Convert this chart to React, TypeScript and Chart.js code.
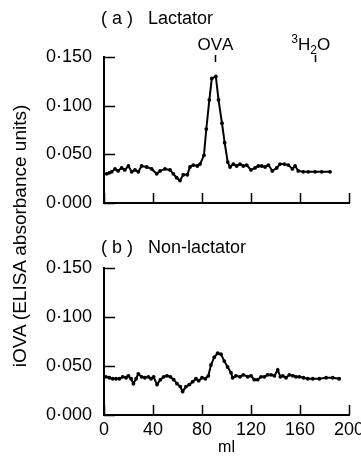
import React, { useEffect, useRef } from 'react';
import { Chart, registerables } from 'chart.js';

Chart.register(...registerables);

// ---- Data ----
const lactatorMl = [
  2.2, 4.3, 6.3, 9.0, 11.5, 14.4, 17.0, 19.9, 22.6, 25.3, 28.0, 30.7, 34.8, 38.9, 43.0, 45.8,
  49.8, 53.9, 56.6, 59.3, 62.0, 64.7, 68.0, 70.2, 72.9, 76.2, 78.4, 81.6, 83.5, 86.0, 88.0,
  91.3, 93.5, 96.3, 98.5, 101.0, 102.9, 105.6, 108.3, 111.0, 113.7, 116.5, 120.0, 123.3,
  126.0, 128.7, 131.5, 134.2, 137.4, 141.0, 143.7, 147.2, 150.5, 153.8, 156.0, 158.6, 162.7,
  166.8, 172.3, 177.7, 184.5,
];
const lactatorOva = [
  0.030, 0.031, 0.032, 0.035, 0.033, 0.036, 0.034, 0.038, 0.032, 0.034, 0.032, 0.038, 0.037,
  0.035, 0.030, 0.033, 0.035, 0.034, 0.030, 0.026, 0.023, 0.029, 0.029, 0.037, 0.039, 0.038,
  0.040, 0.049, 0.076, 0.106, 0.128, 0.130, 0.106, 0.082, 0.062, 0.042, 0.037, 0.040, 0.038,
  0.040, 0.038, 0.039, 0.034, 0.036, 0.038, 0.038, 0.037, 0.039, 0.033, 0.036, 0.040, 0.040,
  0.039, 0.035, 0.038, 0.033, 0.032, 0.032, 0.032, 0.032, 0.032,
];
const nonLactatorMl = [
  1.6, 4.4, 7.1, 9.8, 12.6, 15.3, 18.0, 19.9, 22.1, 24.0, 26.2, 28.0, 30.7, 33.4, 36.2, 38.4,
  40.5, 43.3, 46.0, 48.7, 51.4, 54.2, 56.9, 59.6, 62.3, 64.2, 66.9, 69.7, 72.4, 75.1, 77.3,
  80.0, 82.7, 85.2, 87.3, 90.0, 92.8, 95.5, 98.2, 100.9, 103.7, 105.0, 107.7, 111.0, 113.7,
  117.3, 120.0, 122.7, 125.4, 128.2, 130.9, 133.6, 136.3, 139.1, 141.8, 144.0, 145.9, 148.6,
  151.3, 154.1, 156.8, 159.5, 162.8, 166.3, 170.4, 175.8, 181.3, 186.7, 192.0,
];
const nonLactatorOva = [
  0.039, 0.038, 0.037, 0.037, 0.037, 0.039, 0.038, 0.040, 0.037, 0.032, 0.037, 0.042, 0.039,
  0.038, 0.039, 0.037, 0.039, 0.031, 0.036, 0.039, 0.040, 0.039, 0.036, 0.032, 0.029, 0.024,
  0.029, 0.031, 0.034, 0.037, 0.035, 0.038, 0.037, 0.040, 0.051, 0.059, 0.063, 0.062, 0.055,
  0.049, 0.043, 0.038, 0.040, 0.039, 0.041, 0.039, 0.040, 0.036, 0.036, 0.039, 0.039, 0.041,
  0.041, 0.040, 0.046, 0.039, 0.040, 0.038, 0.041, 0.040, 0.039, 0.039, 0.038, 0.037, 0.037,
  0.037, 0.038, 0.038, 0.037,
];
const yTicks = [0, 0.05, 0.1, 0.15];
const xTicks = [0, 40, 80, 120, 160, 200];
const markerMl = [91, 172];
const markerLabels = ['OVA', '³H₂O'];
const panelLetters = ['( a )', '( b )'];
const panelNames = ['Lactator', 'Non-lactator'];
const yTitle = 'iOVA (ELISA absorbance units)';
const xTitle = 'ml';

const FONT = '"Liberation Sans", Arial, sans-serif';

function drawMarkerLabel(ctx: CanvasRenderingContext2D, label: string, cx: number, y: number) {
  const pieces: { t: string; k: 'n' | 'sup' | 'sub' }[] = [];
  const supMap: Record<string, string> = { '³': '3', '²': '2', '¹': '1' };
  const subMap: Record<string, string> = { '₂': '2', '₃': '3', '₁': '1' };
  for (const ch of label) {
    if (supMap[ch]) pieces.push({ t: supMap[ch], k: 'sup' });
    else if (subMap[ch]) pieces.push({ t: subMap[ch], k: 'sub' });
    else pieces.push({ t: ch, k: 'n' });
  }
  const fontFor = (k: string) => (k === 'n' ? `17px ${FONT}` : `12px ${FONT}`);
  let total = 0;
  for (const p of pieces) {
    ctx.font = fontFor(p.k);
    total += ctx.measureText(p.t).width;
  }
  let x = cx - total / 2;
  ctx.textAlign = 'left';
  ctx.textBaseline = 'alphabetic';
  for (const p of pieces) {
    ctx.font = fontFor(p.k);
    const dy = p.k === 'sup' ? -7 : p.k === 'sub' ? 4 : 0;
    ctx.fillText(p.t, x, y + dy);
    x += ctx.measureText(p.t).width;
  }
}

function makeDecor(panel: number, titleY: number) {
  return {
    id: 'decor' + panel,
    afterDraw(chart: any) {
      const ctx: CanvasRenderingContext2D = chart.ctx;
      const xs = chart.scales.x;
      const ys = chart.scales.y;
      const area = chart.chartArea;
      ctx.save();
      ctx.strokeStyle = '#000';
      ctx.lineWidth = 1.5;
      ctx.beginPath();
      xTicks.forEach((v) => {
        const px = Math.round(xs.getPixelForValue(v)) + 0.5;
        ctx.moveTo(px, area.bottom);
        ctx.lineTo(px, area.bottom - 10);
      });
      yTicks.forEach((v) => {
        const py = Math.round(ys.getPixelForValue(v)) + 0.5;
        ctx.moveTo(area.left, py);
        ctx.lineTo(area.left + 11, py);
      });
      ctx.stroke();

      ctx.fillStyle = '#000';
      ctx.font = `18px ${FONT}`;
      ctx.textAlign = 'left';
      ctx.textBaseline = 'middle';
      ctx.fillText(panelLetters[panel], 101, titleY);
      ctx.fillText(panelNames[panel], 148, titleY);

      if (panel === 0) {
        markerMl.forEach((m, i) => {
          const px = xs.getPixelForValue(m);
          drawMarkerLabel(ctx, markerLabels[i], px - (i === 1 ? 4 : 0), 50);
          ctx.beginPath();
          ctx.lineWidth = 1.5;
          ctx.moveTo(Math.round(px) + 0.5, 55);
          ctx.lineTo(Math.round(px) + 0.5, 62);
          ctx.stroke();
        });
      }
      ctx.restore();
    },
  };
}

function buildConfig(panel: number, ml: number[], vals: number[], opts: any): any {
  return {
    type: 'line',
    data: {
      datasets: [
        {
          data: ml.map((x, i) => ({ x, y: vals[i] })),
          borderColor: '#000',
          borderWidth: 2,
          pointRadius: 1.9,
          pointBackgroundColor: '#000',
          pointBorderWidth: 0,
          tension: 0,
          fill: false,
        },
      ],
    },
    options: {
      responsive: false,
      animation: false,
      devicePixelRatio: 1,
      layout: { padding: { top: opts.padTop, left: 0, right: 12, bottom: 0 } },
      plugins: { legend: { display: false }, tooltip: { enabled: false }, title: { display: false } },
      scales: {
        x: {
          type: 'linear',
          min: 0,
          max: 200,
          grid: { display: false, drawTicks: false },
          border: { display: true, color: '#000', width: 2 },
          ticks: {
            display: opts.showX,
            stepSize: 40,
            color: '#000',
            padding: 4,
            font: { family: FONT, size: 18 },
            maxRotation: 0,
          },
          title: {
            display: opts.showX,
            text: xTitle,
            color: '#000',
            font: { family: FONT, size: 16 },
            padding: { top: 0, bottom: 2 },
          },
          afterFit: (s: any) => {
            s.height = opts.xHeight;
            s.paddingLeft = 0;
            s.paddingRight = 0;
            s.paddingTop = 0;
            s.paddingBottom = 0;
          },
        },
        y: {
          min: 0,
          max: 0.15,
          grid: { display: false, drawTicks: false },
          border: { display: true, color: '#000', width: 2 },
          ticks: {
            stepSize: 0.05,
            color: '#000',
            padding: 12,
            font: { family: FONT, size: 18 },
            callback: (v: number) => Number(v).toFixed(3).replace('.', '·'),
          },
          afterFit: (s: any) => {
            s.width = 104;
            s.paddingLeft = 0;
            s.paddingRight = 0;
            s.paddingTop = 0;
            s.paddingBottom = 0;
          },
        },
      },
    },
    plugins: [makeDecor(panel, opts.titleY)],
  };
}

export default function App() {
  const refA = useRef<HTMLCanvasElement>(null);
  const refB = useRef<HTMLCanvasElement>(null);

  useEffect(() => {
    const a = new Chart(
      refA.current as HTMLCanvasElement,
      buildConfig(0, lactatorMl, lactatorOva, { padTop: 57, showX: false, xHeight: 12, titleY: 19 })
    );
    const b = new Chart(
      refB.current as HTMLCanvasElement,
      buildConfig(1, nonLactatorMl, nonLactatorOva, { padTop: 43, showX: true, xHeight: 44, titleY: 23 })
    );
    return () => {
      a.destroy();
      b.destroy();
    };
  }, []);

  return (
    <div style={{ position: 'fixed', left: 0, top: 0, width: 361, height: 459, background: '#fff', overflow: 'hidden' }}>
      <canvas ref={refA} width={361} height={215} style={{ position: 'absolute', left: 0, top: 0, width: 361, height: 215 }} />
      <canvas ref={refB} width={361} height={234} style={{ position: 'absolute', left: 0, top: 225, width: 361, height: 234 }} />
      <div
        style={{
          position: 'absolute',
          left: 20 - 160,
          top: 236 - 11,
          width: 320,
          height: 22,
          lineHeight: '22px',
          textAlign: 'center',
          transform: 'rotate(-90deg)',
          fontFamily: FONT,
          fontSize: 19,
          color: '#000',
          whiteSpace: 'nowrap',
        }}
      >
        {yTitle}
      </div>
    </div>
  );
}
